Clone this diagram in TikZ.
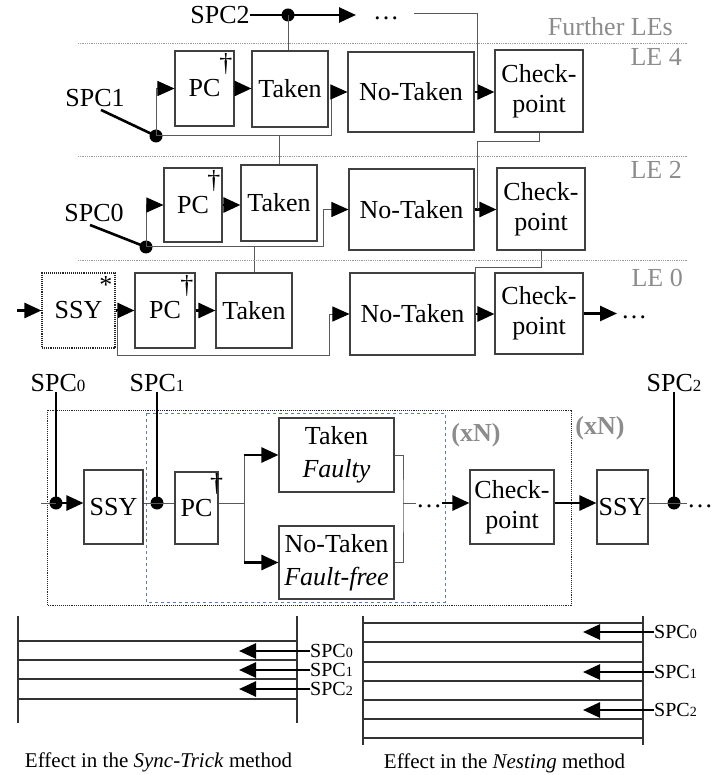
\documentclass[tikz,border=0pt]{standalone}
\usepackage{fontspec}
\setmainfont{Liberation Serif}
\usepackage{xcolor}
\usetikzlibrary{positioning,arrows.meta}

\definecolor{loopblue}{RGB}{95,125,175}
\newcommand\bfs{\fontsize{26}{30}\selectfont}
\newcommand\sfs{\fontsize{20}{22}\selectfont}
\newcommand\cfs{\fontsize{21}{24}\selectfont}
\newcommand\dg[1]{{\fontsize{17}{17}\selectfont #1}}
\newcommand\sdg[1]{{\fontsize{14}{14}\selectfont #1}}

\begin{document}
\begin{tikzpicture}[
  x=1pt, y=-1pt,
  >={Triangle[length=17pt 0,width=15pt 0,color=black]},
  box/.style={rectangle, draw=black!75, line width=1.1pt, inner sep=0pt, align=center, font=\bfs},
  ssybox/.style={box, densely dotted, draw=black!85},
  lbl/.style={inner sep=0pt, font=\bfs},
  gry/.style={inner sep=0pt, font=\bfs, text=black!45},
  sml/.style={inner sep=0pt, font=\sfs},
  captxt/.style={inner sep=0pt, font=\cfs},
  wire/.style={draw=black!65, line width=1pt},
  bus/.style={draw=black, line width=2.6pt},
  dot/.style={circle, fill=black, inner sep=0pt, minimum size=13pt},
  sep/.style={draw=black!40, densely dotted, line width=0.8pt},
  rail/.style={draw=black!80, line width=1.2pt}
]
\useasboundingbox (0,0) rectangle (723,775);

% ---- LE 4 ----
\node[box, minimum width=59, minimum height=75] (pc4) at (204.5,88.5) {PC};
\node[box, minimum width=76, minimum height=76] (tk4) at (290,89) {Taken};
\node[box, minimum width=126, minimum height=80] (nt4) at (411,92) {No-Taken};
\node[box, minimum width=88, minimum height=82] (cp4) at (539,91) {Check-\\point};
\node[lbl, anchor=north east] at ([xshift=-2,yshift=-3]pc4.north east) {\textdagger};
\node[lbl] (spc1) at (95,98) {SPC1};
\node[dot] (d1) at (156,136) {};
\node[lbl] (spc2) at (220,15) {SPC2};
\node[dot] (d2) at (288,15) {};
\node[lbl] (dd4) at (386,18) {\ldots};
\coordinate (a2) at (356,15);
\coordinate (w4) at (414,14);

\draw[bus] ([xshift=6,yshift=-3]spc1.south) -- (d1.center);
\draw[wire,->] (d1.center) |- (pc4.west);
\draw[wire,->] (d1.center) -| ([xshift=-16]nt4.west) -- (nt4.west);
\draw[bus,->] (pc4.east) -- (pc4.east -| tk4.west);
\draw[bus,->] (nt4.east) -- (nt4.east -| cp4.west);
\draw[bus,->] (spc2.east) -- (a2);
\draw[wire] (d2.center) -- (d2 |- tk4.north);
\draw[wire] (w4) -| ([xshift=-17]cp4.west);

% ---- LE 2 ----
\node[box, minimum width=58, minimum height=74] (pc2) at (193,205) {PC};
\node[box, minimum width=76, minimum height=76] (tk2) at (279,203) {Taken};
\node[box, minimum width=125, minimum height=81] (nt2) at (411.5,209.5) {No-Taken};
\node[box, minimum width=88, minimum height=82] (cp2) at (541,209) {Check-\\point};
\node[lbl, anchor=north east] at ([xshift=-2,yshift=-3]pc2.north east) {\textdagger};
\node[lbl] (spc0) at (94,213) {SPC0};
\node[dot] (d0) at (146,247) {};

\draw[wire] (tk2.north) -- (tk2.north |- d1);
\draw[bus] ([xshift=-4,yshift=-3]spc0.south) -- (d0.center);
\draw[wire,->] (d0.center) |- (pc2.west);
\draw[wire,->] (d0.center) -| ([xshift=-25]nt2.west) -- (nt2.west);
\draw[bus,->] (pc2.east) -- (pc2.east -| tk2.west);
\draw[bus,->] (nt2.east) -- (nt2.east -| cp2.west);
\draw[wire] (cp4.south) -- ++(0,9) -| ([xshift=-19]cp2.west);

% ---- LE 0 ----
\node[ssybox, minimum width=73, minimum height=75] (ssy0) at (78.5,310.5) {SSY};
\node[box, minimum width=60, minimum height=75] (pc0) at (165,310.5) {PC};
\node[box, minimum width=76, minimum height=75] (tk0) at (254,310.5) {Taken};
\node[box, minimum width=125, minimum height=82] (nt0) at (412.5,314) {No-Taken};
\node[box, minimum width=88, minimum height=81] (cp0) at (539,313.5) {Check-\\point};
\node[lbl, anchor=north east] at ([xshift=-2,yshift=-3]pc0.north east) {\textdagger};
\node[lbl, anchor=north east] at ([xshift=-3,yshift=-4]ssy0.north east) {*};
\node[lbl] (dd0) at (634,317) {\ldots};
\coordinate (in0) at (17,310.5);
\coordinate (a0) at (617,313.5);

\draw[wire] (tk0.north) -- (tk0.north |- d0);
\draw[wire] (cp2.south) -- ++(0,17) -| ([xshift=-19]cp0.west);
\draw[bus,->] (in0) -- (ssy0.west);
\draw[bus,->] (ssy0.east) -- (ssy0.east -| pc0.west);
\draw[wire,->] ([xshift=2]ssy0.east) -- ++(0,45) -| ([xshift=-20]nt0.west) -- (nt0.west);
\draw[bus,->] (pc0.east) -- (pc0.east -| tk0.west);
\draw[bus,->] (nt0.east) -- (nt0.east -| cp0.west);
\draw[bus,->] (cp0.east) -- (a0);

% separators and row names
\foreach \y in {43,156,260}
  \draw[sep] (78,\y) -- (687,\y);
\node[gry, anchor=east] at (673,27) {Further LEs};
\node[gry, anchor=east] at (682,57) {LE 4};
\node[gry, anchor=east] at (682,170) {LE 2};
\node[gry, anchor=east] at (683,278) {LE 0};

% ---- nested loops ----
\draw[black!85, densely dotted, line width=0.9pt] (47,410) rectangle (571,605);
\draw[loopblue, dashed, line width=0.9pt] (146,413) rectangle (445,602);
\node[gry, font=\bfs\bfseries] at (476,435) {(xN)};
\node[gry, font=\bfs\bfseries] at (600,428) {(xN)};

\node[lbl] (s0) at (58,383) {SPC\dg{0}};
\node[lbl] (s1) at (157,383) {SPC\dg{1}};
\node[lbl] (s2) at (674,383) {SPC\dg{2}};
\node[dot] (m0) at (56,503) {};
\node[dot] (m1) at (157,503) {};
\node[dot] (m2) at (674,503) {};
\node[box, minimum width=59, minimum height=74] (ssy1) at (113.5,507) {SSY};
\node[box, minimum width=43, minimum height=72] (pcm) at (196.5,508) {PC};
\node[lbl, anchor=north] at ([xshift=-2,yshift=-2]pcm.north east) {\textdagger};
\node[box, minimum width=115, minimum height=74, font=\fontsize{26}{33}\selectfont] (tkf) at (336.5,455) {Taken\\\textit{Faulty}};
\node[box, minimum width=115, minimum height=73, font=\fontsize{26}{33}\selectfont] (ntf) at (336.5,562.5) {No-Taken\\\textit{Fault-free}};
\node[box, minimum width=84, minimum height=74] (cpm) at (512,507) {Check-\\point};
\node[box, minimum width=51, minimum height=74] (ssy2) at (622.5,507) {SSY};
\node[lbl] (ddm) at (429,506) {\ldots};
\node[lbl] (ddr) at (700,506) {\ldots};
\coordinate (mi) at (41,503);
\coordinate (fk) at (244,503);
\coordinate (jn) at (403,503);

\draw[bus] (m0 |- s0.south) -- (m0.center);
\draw[bus] (m1 |- s1.south) -- (m1.center);
\draw[bus] (m2 |- s2.south) -- (m2.center);
\draw[wire] (mi) -- (m0.center);
\draw[bus,->] (m0.center) -- (m0 -| ssy1.west);
\draw[wire] (m0 -| ssy1.east) -- (m0 -| pcm.west);
\draw[wire] (m0 -| pcm.east) -- (fk);
\draw[wire] (fk |- tkf.west) -- (fk |- ntf.west);
\draw[bus,->] (fk |- tkf.west) -- (tkf.west);
\draw[bus,->] (fk |- ntf.west) -- (ntf.west);
\draw[wire] (tkf.east) -| (jn) |- (ntf.east);
\draw[wire] (jn) -- (ddm.west |- jn);
\draw[bus,->] (ddm.east |- jn) -- (jn -| cpm.west);
\draw[bus,->] (cpm.east |- jn) -- (jn -| ssy2.west);
\draw[wire] (jn -| ssy2.east) -- (ddr.west |- jn);

% ---- effect on the stack ----
\draw[rail] (18,616) -- (18,723);
\draw[rail] (297,616) -- (297,723);
\foreach \y in {641,660,679,699}
  \draw[rail] (18,\y) -- (297,\y);
\foreach \y/\d in {651/0,670/1,689/2} {
  \node[sml, anchor=west] (la\d) at (310,\y) {SPC\sdg{\d}};
  \coordinate (ta\d) at (239,\y);
  \draw[bus,->] (la\d.west) -- (ta\d);
}
\draw[rail] (363,616) -- (363,745);
\draw[rail] (643,616) -- (643,745);
\foreach \y in {623,642,662,681,700,719,738}
  \draw[rail] (363,\y) -- (643,\y);
\foreach \y/\d in {632/0,672/1,710/2} {
  \node[sml, anchor=west] (lb\d) at (654,\y) {SPC\sdg{\d}};
  \coordinate (tb\d) at (583,\y);
  \draw[bus,->] (lb\d.west) -- (tb\d);
}
\node[captxt] (capl) at (158.5,762) {Effect in the \textit{Sync-Trick} method};
\node[captxt] (capr) at (504.5,763) {Effect in the \textit{Nesting} method};
\end{tikzpicture}
\end{document}
